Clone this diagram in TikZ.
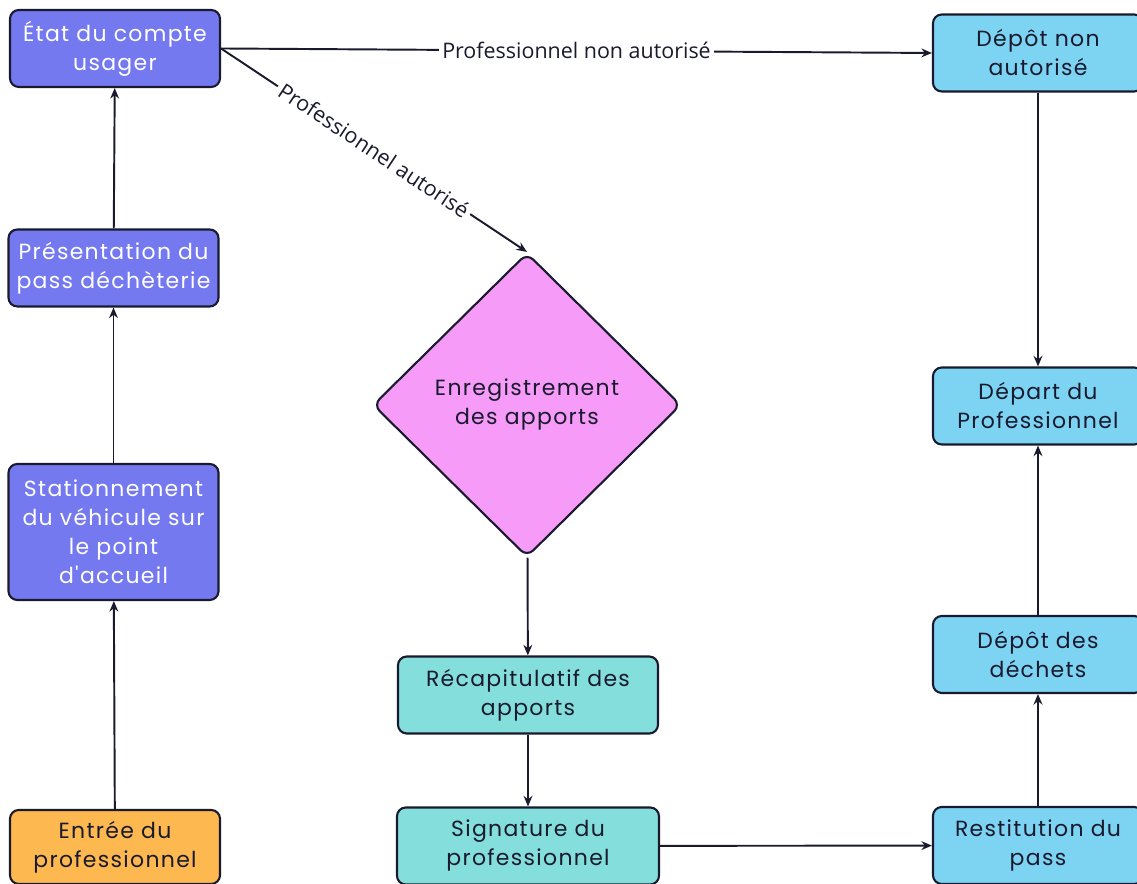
\documentclass[tikz,border=0pt]{standalone}
\usepackage{fontspec}
\setmainfont{Open Sans}
\newfontfamily\boxfont[LetterSpace=6]{Poppins}
\usetikzlibrary{positioning, shapes.geometric, arrows.meta}

\definecolor{violetbox}{HTML}{7479F0}
\definecolor{orangebox}{HTML}{FDB850}
\definecolor{tealbox}{HTML}{84DFDC}
\definecolor{bluebox}{HTML}{7DD3F2}
\definecolor{pinkbox}{HTML}{F69CF8}
\definecolor{edgeline}{HTML}{1A1A2E}

\begin{document}
\begin{tikzpicture}[
  >={Stealth[length=6pt, width=5pt]},
  stepbox/.style={draw=edgeline, line width=1.2pt, rounded corners=5pt, minimum width=4.2cm, minimum height=1.54cm, align=center, font=\boxfont\fontsize{12.5}{16.5}\selectfont, text=edgeline},
  violet/.style={stepbox, fill=violetbox, text=white},
  flow/.style={->, line width=1.1pt, edgeline},
  cond/.style={fill=white, font=\fontsize{12.2}{14}\selectfont, inner sep=2pt}
]
\useasboundingbox (0,0) rectangle (22.74,17.68);

% Left column
\node[violet] (etat) at (2.30, 16.71) {État du compte\\usager};
\node[violet] (pass) at (2.27, 12.32) {Présentation du\\pass déchèterie};
\node[violet, minimum height=2.72cm] (station) at (2.27, 7.04) {Stationnement\\du véhicule sur\\le point\\d'accueil};
\node[stepbox, fill=orangebox, minimum height=1.48cm] (entree) at (2.30, 0.74) {Entrée du\\professionnel};

% Middle column
\node[diamond, draw=edgeline, line width=1.2pt, rounded corners=5pt, fill=pinkbox, minimum width=6.16cm, minimum height=6.08cm, inner sep=0pt, align=center, font=\boxfont\fontsize{12.5}{16.5}\selectfont, text=edgeline] (enreg) at (10.54, 9.58) {Enregistrement\\des apports};
\node[stepbox, fill=tealbox, minimum width=5.2cm] (recap) at (10.56, 3.78) {Récapitulatif des\\apports};
\node[stepbox, fill=tealbox, minimum width=5.24cm] (signe) at (10.56, 0.76) {Signature du\\professionnel};

% Right column
\node[stepbox, fill=bluebox] (depotna) at (20.76, 16.62) {Dépôt non\\autorisé};
\node[stepbox, fill=bluebox] (depart) at (20.76, 9.56) {Départ du\\Professionnel};
\node[stepbox, fill=bluebox] (dechets) at (20.76, 4.59) {Dépôt des\\déchets};
\node[stepbox, fill=bluebox] (restit) at (20.76, 0.77) {Restitution du\\pass};

% Connectors
\draw[flow] (entree) -- (station);
\draw[flow] (station) -- (pass);
\draw[flow] (pass) -- (etat);
\draw[flow] (etat.east) -- node[cond] {Professionnel non autorisé} (depotna.west);
\draw[flow] (etat.east) -- node[cond, sloped] {Professionnel autorisé} (enreg.north);
\draw[flow] (enreg) -- (recap);
\draw[flow] (recap) -- (signe);
\draw[flow] (signe) -- (restit);
\draw[flow] (restit) -- (dechets);
\draw[flow] (dechets) -- (depart);
\draw[flow] (depotna) -- (depart);

\end{tikzpicture}
\end{document}
